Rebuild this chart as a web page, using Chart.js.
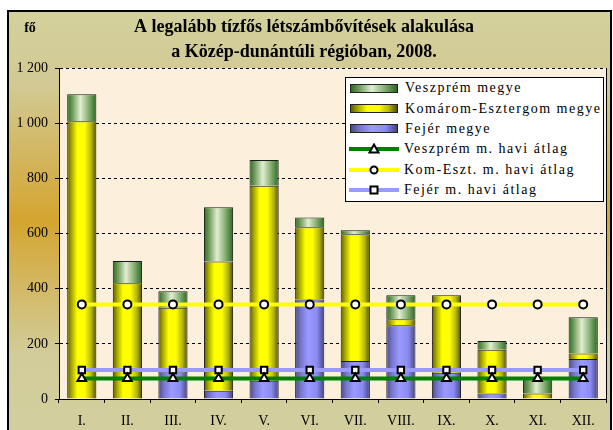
<!DOCTYPE html>
<html>
<head>
<meta charset="utf-8">
<script src="https://cdn.jsdelivr.net/npm/chart.js@4.4.0/dist/chart.umd.min.js"></script>
<style>
  html, body { margin: 0; padding: 0; background: #fff; }
  #wrap { position: relative; width: 613px; height: 430px; }
  #legend {
    position: absolute; left: 345px; top: 77px; width: 259px; height: 125px;
    background: #fff; border: 1px solid #000; box-sizing: border-box;
    font-family: 'Liberation Serif', serif; font-size: 14px; letter-spacing: 1.5px;
  }
  .row { height: 20.4px; display: flex; align-items: center; }
  .sw { margin-left: 4px; width: 46px; height: 7px; border: 1px solid #222; margin-right: 7px; }
  .ln { margin-left: 3px; width: 50px; height: 12px; margin-right: 5px; }
</style>
</head>
<body>
<div id="wrap">
  <canvas id="chart" width="613" height="430"></canvas>
  <div id="legend"></div>
</div>
<script>
const months = ['I.', 'II.', 'III.', 'IV.', 'V.', 'VI.', 'VII.', 'VIII.', 'IX.', 'X.', 'XI.', 'XII.'];

// havi létszámbővítések (fő)
const fejer = [0, 0, 100, 30, 66, 361, 138, 267, 95, 20, 0, 145];
const komarom = [1007, 420, 231, 469, 707, 262, 459, 22, 281, 159, 20, 20];
const veszprem = [98, 80, 60, 196, 94, 35, 15, 87, 0, 31, 52, 131];

// havi átlagok
const veszpremAvg = [74, 74, 74, 74, 74, 74, 74, 74, 74, 74, 74, 74];
const komaromAvg = [343, 343, 343, 343, 343, 343, 343, 343, 343, 343, 343, 343];
const fejerAvg = [105, 105, 105, 105, 105, 105, 105, 105, 105, 105, 105, 105];

const yTicks = [0, 200, 400, 600, 800, 1000, 1200];

const FONT = "'Liberation Serif', serif";
const BAR_PCT = 0.64;

const yellowStops = [[0, '#5e5e00'], [0.15, '#a8a800'], [0.35, '#ffff00'], [0.6, '#ffff00'], [0.82, '#b8b800'], [1, '#4e4e00']];
const greenStops = [[0, '#2f6a25'], [0.18, '#6f9d5c'], [0.45, '#e2edd2'], [0.7, '#8fb77c'], [1, '#2c6622']];
const blueStops = [[0, '#4a4a8a'], [0.2, '#7878cc'], [0.45, '#9a9aff'], [0.75, '#8a8af0'], [1, '#44447e']];

function cylinder(stops) {
  return (ctx) => {
    const chart = ctx.chart;
    const xs = chart.scales.x;
    if (!chart.chartArea || !xs) return stops[2][1];
    const x = xs.getPixelForValue(ctx.dataIndex);
    const half = xs.width / months.length * BAR_PCT / 2;
    const g = chart.ctx.createLinearGradient(x - half, 0, x + half, 0);
    stops.forEach(s => g.addColorStop(s[0], s[1]));
    return g;
  };
}

function cssGradient(stops) {
  return 'linear-gradient(to right, ' + stops.map(s => s[1] + ' ' + (s[0] * 100) + '%').join(', ') + ')';
}

const frame = {
  id: 'frame',
  beforeDraw(chart) {
    const c = chart.ctx;
    const a = chart.chartArea;
    c.save();
    c.fillStyle = '#fff';
    c.fillRect(0, 0, chart.width, chart.height);
    const g = c.createLinearGradient(0, 10, 0, 430);
    g.addColorStop(0, '#d3d19d');
    g.addColorStop(0.18, '#d2c994');
    g.addColorStop(0.5, '#d4a52f');
    g.addColorStop(0.82, '#d2cc9a');
    g.addColorStop(1, '#d2cf9e');
    c.fillStyle = g;
    c.fillRect(7, 10, 605, 425);
    c.strokeStyle = '#000';
    c.lineWidth = 2;
    c.strokeRect(8, 11, 603, 425);
    c.fillStyle = '#fcf0dc';
    c.fillRect(a.left, a.top, a.right - a.left, a.bottom - a.top);
    // "fő" egység felirat
    c.fillStyle = '#000';
    c.font = 'bold 14px ' + FONT;
    c.textAlign = 'center';
    c.textBaseline = 'middle';
    c.fillText('fő', 30, 28);
    c.restore();
  },
  afterDatasetsDraw(chart) {
    const c = chart.ctx;
    const a = chart.chartArea;
    c.save();
    c.strokeStyle = '#000';
    c.lineWidth = 1;
    c.beginPath();
    c.moveTo(a.right + 0.5, a.top);
    c.lineTo(a.right + 0.5, a.bottom);
    c.stroke();
    c.restore();
  }
};

const chart = new Chart(document.getElementById('chart'), {
  type: 'bar',
  data: {
    labels: months,
    datasets: [
      { type: 'line', label: 'Veszprém m. havi átlag', data: veszpremAvg, stack: 'avgV', borderColor: '#008000', borderWidth: 4,
        pointStyle: 'triangle', pointRadius: 5, pointBackgroundColor: '#fff', pointBorderColor: '#000', pointBorderWidth: 2, order: 0 },
      { type: 'line', label: 'Kom-Eszt. m. havi átlag', data: komaromAvg, stack: 'avgK', borderColor: '#ffff00', borderWidth: 4,
        pointStyle: 'circle', pointRadius: 4, pointBackgroundColor: '#fff', pointBorderColor: '#000', pointBorderWidth: 2, order: 0 },
      { type: 'line', label: 'Fejér m. havi átlag', data: fejerAvg, stack: 'avgF', borderColor: '#9999ff', borderWidth: 4,
        pointStyle: 'rect', pointRadius: 4.5, pointBackgroundColor: '#fff', pointBorderColor: '#000', pointBorderWidth: 2, order: 0 },
      { label: 'Fejér megye', data: fejer, stack: 'bars', backgroundColor: cylinder(blueStops), borderColor: '#1a1a1a', borderWidth: 1, order: 1 },
      { label: 'Komárom-Esztergom megye', data: komarom, stack: 'bars', backgroundColor: cylinder(yellowStops), borderColor: '#1a1a1a', borderWidth: 1, order: 1 },
      { label: 'Veszprém megye', data: veszprem, stack: 'bars', backgroundColor: cylinder(greenStops), borderColor: '#1a1a1a', borderWidth: 1, order: 1 }
    ]
  },
  options: {
    responsive: false,
    animation: false,
    categoryPercentage: 1,
    barPercentage: BAR_PCT,
    layout: { padding: { left: 0, right: 5, top: 0, bottom: 0 } },
    plugins: {
      legend: { display: false },
      tooltip: { enabled: false },
      title: {
        display: true,
        text: ['A legalább tízfős létszámbővítések alakulása', 'a Közép-dunántúli régióban, 2008.'],
        color: '#000',
        font: { family: FONT, size: 18, weight: 'bold', lineHeight: 1.39 },
        padding: { top: 15, bottom: 3 }
      }
    },
    scales: {
      x: {
        stacked: true,
        grid: { display: true, drawOnChartArea: false, drawTicks: true, tickLength: 4, color: '#000' },
        border: { display: true, color: '#000', width: 1 },
        ticks: { color: '#000', font: { family: FONT, size: 14 }, padding: 10, maxRotation: 0 },
        afterFit(s) { s.height = 31; }
      },
      y: {
        stacked: true,
        min: 0,
        max: 1200,
        afterBuildTicks(s) { s.ticks = yTicks.map(v => ({ value: v })); },
        grid: { color: '#000', lineWidth: 1, tickLength: 4, tickColor: '#000', tickBorderDash: [] },
        border: { display: true, color: '#000', width: 1, dash: [3, 3] },
        ticks: {
          color: '#000', font: { family: FONT, size: 14 }, padding: 7,
          callback: v => String(v).replace(/\B(?=(\d{3})+(?!\d))/g, ' ')
        },
        afterFit(s) { s.width = 59; }
      }
    }
  },
  plugins: [frame]
});

// jelmagyarázat
const legendOrder = [5, 4, 3, 0, 1, 2];
const stopsFor = { 3: blueStops, 4: yellowStops, 5: greenStops };
const legendEl = document.getElementById('legend');
legendOrder.forEach(i => {
  const ds = chart.data.datasets[i];
  const row = document.createElement('div');
  row.className = 'row';
  let sym;
  if (ds.type === 'line') {
    let marker;
    if (ds.pointStyle === 'triangle') marker = '<polygon points="25,1.5 29.5,9.5 20.5,9.5" fill="#fff" stroke="#000" stroke-width="2"/>';
    else if (ds.pointStyle === 'circle') marker = '<circle cx="25" cy="6" r="3.5" fill="#fff" stroke="#000" stroke-width="2"/>';
    else marker = '<rect x="21.5" y="2.5" width="7" height="7" fill="#fff" stroke="#000" stroke-width="2"/>';
    sym = '<svg class="ln" viewBox="0 0 50 12"><line x1="0" y1="6" x2="50" y2="6" stroke="' + ds.borderColor + '" stroke-width="4"/>' + marker + '</svg>';
  } else {
    sym = '<div class="sw" style="background:' + cssGradient(stopsFor[i]) + '"></div>';
  }
  row.innerHTML = sym + '<span>' + ds.label + '</span>';
  legendEl.appendChild(row);
});
</script>
</body>
</html>
